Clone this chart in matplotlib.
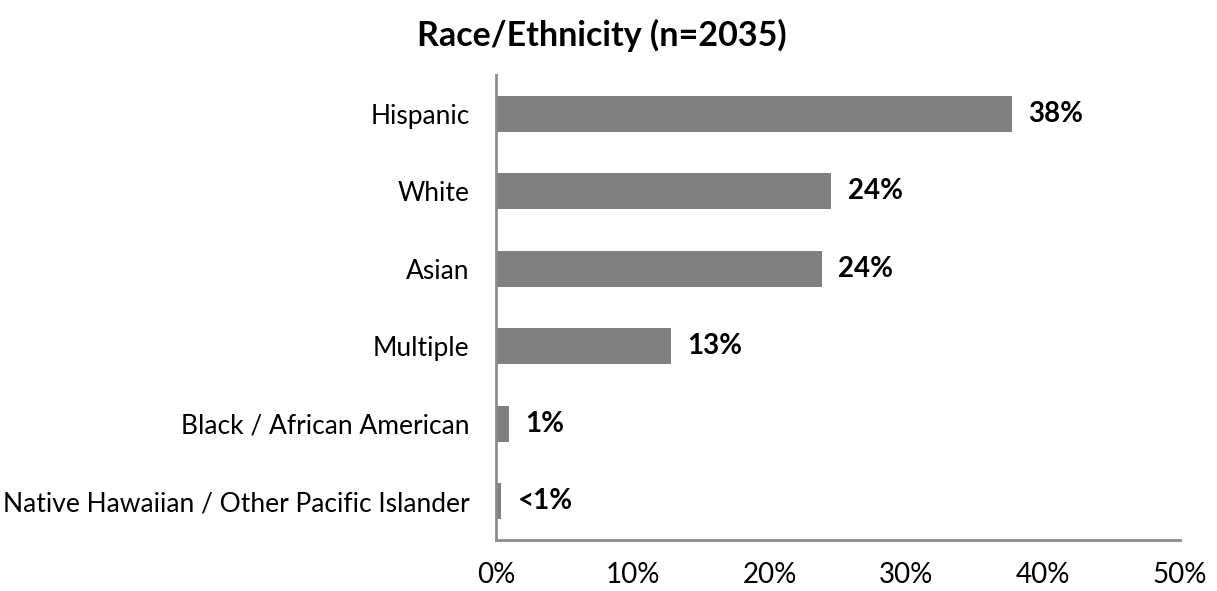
import matplotlib
matplotlib.use("Agg")
import matplotlib.pyplot as plt

plt.rcParams['font.family'] = ['Lato', 'DejaVu Sans']

categories = ['Native Hawaiian / Other Pacific Islander', 'Black / African American',
              'Multiple', 'Asian', 'White', 'Hispanic']
values = [0.4, 0.95, 12.8, 23.8, 24.5, 37.7]
value_labels = ['<1%', '1%', '13%', '24%', '24%', '38%']
xticks = [0, 10, 20, 30, 40, 50]
xtick_labels = ['0%', '10%', '20%', '30%', '40%', '50%']

fig = plt.figure(figsize=(12.17, 5.91), dpi=100)
ax = fig.add_axes([496 / 1217, 51 / 591, 684 / 1217, 465 / 591])

y = range(len(categories))
ax.barh(y, values, height=0.465, color='#808080')

for yi, v, lab in zip(y, values, value_labels):
    ax.text(v + 1.2, yi, lab, ha='left', va='center', fontsize=20, fontweight='bold')

ax.set_xlim(0, 50)
ax.set_ylim(-0.5, 5.5)
ax.set_yticks(list(y))
ax.set_yticklabels(categories, fontsize=19)
ax.set_xticks(xticks)
ax.set_xticklabels(xtick_labels, fontsize=20)
ax.tick_params(axis='both', length=0)
ax.tick_params(axis='y', pad=19)
ax.tick_params(axis='x', pad=16)

for s in ['top', 'right']:
    ax.spines[s].set_visible(False)
for s in ['left', 'bottom']:
    ax.spines[s].set_color('#8c8c8c')
    ax.spines[s].set_linewidth(2)

fig.text(602 / 1217, 1 - 35 / 591, 'Race/Ethnicity (n=2035)', ha='center', va='center',
         fontsize=24.5, fontweight='bold')

fig.savefig('out.png', dpi=100)
